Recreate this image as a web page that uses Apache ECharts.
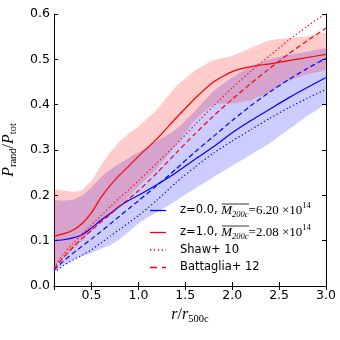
<!DOCTYPE html>
<html>
<head>
<meta charset="utf-8">
<title>P_rand / P_tot</title>
<script src="https://cdn.jsdelivr.net/npm/echarts@6.0.0/dist/echarts.min.js"></script>
</head>
<body style="margin:0;background:#fff;">
<div id="main" style="width:340px;height:340px;"></div>
<script>
// r / r500c sample points
var radii = [0.1, 0.2, 0.3, 0.4, 0.5, 0.6, 0.7, 0.8, 0.9, 1.0, 1.2, 1.4, 1.6, 1.8, 2.0, 2.2, 2.4, 2.6, 2.8, 3.0];

// z=0.0 median and scatter band
var z0Median = [0.100, 0.102, 0.106, 0.113, 0.128, 0.145, 0.160, 0.176, 0.189, 0.200, 0.224, 0.250, 0.279, 0.307, 0.338, 0.365, 0.390, 0.415, 0.438, 0.460];
var z0Upper  = [0.188, 0.188, 0.19, 0.2, 0.218, 0.24, 0.257, 0.27, 0.283, 0.295, 0.32, 0.345, 0.385, 0.43, 0.46, 0.485, 0.5, 0.51, 0.517, 0.523];
var z0Lower  = [0.032, 0.045, 0.056, 0.066, 0.073, 0.082, 0.09, 0.103, 0.12, 0.138, 0.163, 0.188, 0.215, 0.24, 0.265, 0.29, 0.315, 0.345, 0.375, 0.405];

// z=1.0 median and scatter band
var z1Median = [0.110, 0.115, 0.123, 0.138, 0.162, 0.195, 0.222, 0.245, 0.265, 0.286, 0.325, 0.370, 0.413, 0.450, 0.473, 0.484, 0.490, 0.497, 0.504, 0.511];
var z1Upper  = [0.212, 0.21, 0.208, 0.212, 0.232, 0.265, 0.295, 0.318, 0.337, 0.352, 0.39, 0.44, 0.475, 0.498, 0.508, 0.525, 0.542, 0.547, 0.551, 0.558];
var z1Lower  = [0.045, 0.06, 0.08, 0.1, 0.12, 0.14, 0.16, 0.178, 0.198, 0.22, 0.26, 0.31, 0.365, 0.40, 0.403, 0.41, 0.428, 0.452, 0.467, 0.478];

// fitting formulas from the literature
var shawZ0 = [0.030, 0.045, 0.057, 0.068, 0.080, 0.095, 0.110, 0.125, 0.140, 0.155, 0.190, 0.228, 0.262, 0.293, 0.320, 0.345, 0.370, 0.393, 0.414, 0.434];
var shawZ1 = [0.040, 0.070, 0.093, 0.115, 0.135, 0.155, 0.175, 0.195, 0.213, 0.232, 0.272, 0.312, 0.355, 0.397, 0.437, 0.474, 0.508, 0.542, 0.573, 0.602];
var battagliaZ0 = [0.035, 0.055, 0.072, 0.088, 0.104, 0.120, 0.137, 0.154, 0.171, 0.188, 0.222, 0.258, 0.295, 0.330, 0.365, 0.398, 0.428, 0.455, 0.480, 0.502];
var battagliaZ1 = [0.038, 0.063, 0.085, 0.105, 0.123, 0.141, 0.158, 0.176, 0.193, 0.210, 0.250, 0.293, 0.335, 0.375, 0.412, 0.447, 0.480, 0.512, 0.541, 0.569];

var legendLabels = ['z=0.0, ', 'z=1.0, ', 'Shaw+ 10', 'Battaglia+ 12'];
var legendMass = ['6.20', '2.08'];
var legendExp = '14';

function pairs(ys) {
  return radii.map(function (r, i) { return [r, ys[i]]; });
}

function band(lo, hi, color) {
  return {
    type: 'custom',
    coordinateSystem: 'cartesian2d',
    silent: true,
    clip: true,
    z: 1,
    data: [[radii[0], lo[0]]],
    renderItem: function (params, api) {
      var pts = [];
      for (var i = 0; i < radii.length; i++) pts.push(api.coord([radii[i], hi[i]]));
      for (var j = radii.length - 1; j >= 0; j--) pts.push(api.coord([radii[j], lo[j]]));
      return { type: 'polygon', shape: { points: pts, smooth: 0.15 }, style: { fill: color } };
    }
  };
}

function curve(ys, color, type) {
  return {
    type: 'line',
    data: pairs(ys),
    showSymbol: false,
    smooth: 0.2,
    silent: true,
    z: 3,
    lineStyle: { color: color, width: 1.2, type: type }
  };
}

var serif = 'Liberation Serif';
var sans = 'DejaVu Sans';
var black = '#000';

// legend drawn by hand, matplotlib-like
var ctx = document.createElement('canvas').getContext('2d');
function textW(str, font) { ctx.font = font; return ctx.measureText(str).width; }

var legX = 150, legTextX = 180;
var legY = [210.5, 232.5, 250, 267.5];
var legColor = ['#0000ff', '#ff0000', '#ff0000', '#ff0000'];
var legDash = [null, null, [1.3, 2.6], [7, 5]];
var graphics = [];
var rich = {
  t: { fontFamily: sans, fontSize: 11.5, color: black, lineHeight: 18 },
  m: { fontFamily: serif, fontStyle: 'italic', fontSize: 13, color: black, lineHeight: 18 },
  ms: { fontFamily: serif, fontStyle: 'italic', fontSize: 8.5, color: black, lineHeight: 8, verticalAlign: 'bottom' },
  e: { fontFamily: serif, fontSize: 13, color: black, lineHeight: 18 },
  sup: { fontFamily: serif, fontSize: 8.5, color: black, lineHeight: 8, verticalAlign: 'top' }
};
legendLabels.forEach(function (lab, k) {
  graphics.push({
    type: 'line', z: 100, silent: true,
    shape: { x1: legX, y1: legY[k], x2: legX + 16, y2: legY[k] },
    style: { stroke: legColor[k], lineWidth: 1.3, lineDash: legDash[k] }
  });
  var txt;
  if (k < 2) {
    txt = '{t|' + lab + '}{m|M}{ms|200c}{e|=' + legendMass[k] + ' \u00d710}{sup|' + legendExp + '}';
    var x0 = legTextX + textW(lab, '11.5px "DejaVu Sans"');
    var w = textW('M', 'italic 13px "Liberation Serif"') + textW('200c', 'italic 8.5px "Liberation Serif"');
    graphics.push({
      type: 'line', z: 100, silent: true,
      shape: { x1: x0 + 0.5, y1: legY[k] - 6.5, x2: x0 + w + 0.5, y2: legY[k] - 6.5 },
      style: { stroke: black, lineWidth: 0.8 }
    });
  } else {
    txt = '{t|' + lab + '}';
  }
  graphics.push({
    type: 'text', z: 100, silent: true,
    x: legTextX, y: legY[k],
    style: { text: txt, rich: rich, verticalAlign: 'middle', align: 'left' }
  });
});

var axisStyle = { lineStyle: { color: black, width: 1 } };
var tickStyle = { show: true, inside: true, length: 4, lineStyle: { color: black, width: 1 } };
var labelStyle = { color: black, fontFamily: sans, fontSize: 12.5 };
var titleRich = {
  i: { fontFamily: serif, fontStyle: 'italic', fontSize: 16, color: black, lineHeight: 20 },
  n: { fontFamily: serif, fontSize: 16, color: black, lineHeight: 20 },
  s: { fontFamily: serif, fontSize: 10.5, color: black, lineHeight: 10, verticalAlign: 'bottom' }
};

var myChart = echarts.init(document.getElementById('main'), null, { renderer: 'canvas' });
myChart.setOption({
  animation: false,
  backgroundColor: '#fff',
  grid: { left: 54, right: 14, top: 14, bottom: 54, containLabel: false, outerBoundsMode: 'none' },
  xAxis: [{
    type: 'value', min: 0.1, max: 3.0, position: 'bottom',
    axisLine: axisStyle, axisTick: tickStyle, splitLine: { show: false },
    axisLabel: Object.assign({ margin: 3, showMinLabel: false, formatter: function (v) { return v.toFixed(1); } }, labelStyle),
    name: '{i|r}{n|/}{i|r}{s|500c}', nameLocation: 'middle', nameGap: 17,
    nameTextStyle: { rich: titleRich }
  }, {
    type: 'value', min: 0.1, max: 3.0, position: 'top',
    axisLine: axisStyle, axisTick: tickStyle, splitLine: { show: false },
    axisLabel: { show: false }
  }],
  yAxis: [{
    type: 'value', min: 0, max: 0.6, interval: 0.1, position: 'left',
    axisLine: axisStyle, axisTick: tickStyle, splitLine: { show: false },
    axisLabel: Object.assign({ margin: 4, formatter: function (v) { return v.toFixed(1); } }, labelStyle),
    name: '{i|P}{s|rand}{n|/}{i|P}{s|tot}', nameLocation: 'middle', nameGap: 26,
    nameTextStyle: { rich: titleRich }
  }, {
    type: 'value', min: 0, max: 0.6, interval: 0.1, position: 'right',
    axisLine: axisStyle, axisTick: tickStyle, splitLine: { show: false },
    axisLabel: { show: false }
  }],
  series: [
    band(z0Lower, z0Upper, 'rgba(0,0,255,0.2)'),
    band(z1Lower, z1Upper, 'rgba(255,0,0,0.2)'),
    curve(z0Median, '#0000ff', 'solid'),
    curve(z1Median, '#ff0000', 'solid'),
    curve(shawZ0, '#0000ff', [1.3, 2.4]),
    curve(shawZ1, '#ff0000', [1.3, 2.4]),
    curve(battagliaZ0, '#0000ff', [5, 3]),
    curve(battagliaZ1, '#ff0000', [5, 3])
  ],
  graphic: graphics
});
</script>
</body>
</html>
